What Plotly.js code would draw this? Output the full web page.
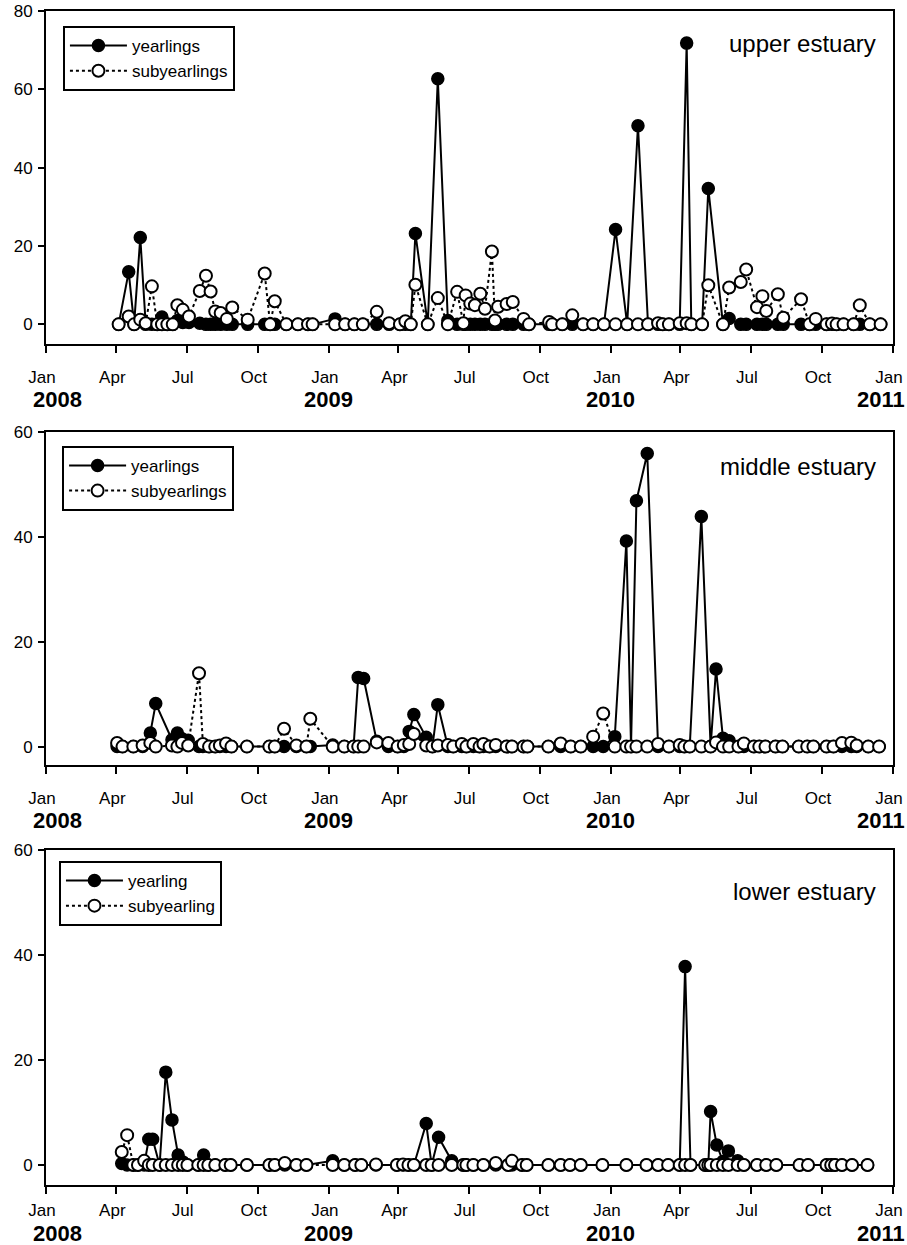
<!DOCTYPE html>
<html>
<head>
<meta charset="utf-8">
<script src="https://cdn.plot.ly/plotly-3.0.1.min.js"></script>
<style>
  html, body { margin: 0; padding: 0; background: #ffffff; }
  #chart { width: 907px; height: 1245px; }
</style>
</head>
<body>
<div id="chart"></div>
<script>
// Sampling dates and catch values for the three estuary reaches

const upperDates = [
  '2008-04-04','2008-04-17','2008-04-24','2008-05-02','2008-05-09','2008-05-17','2008-05-24','2008-05-30',
  '2008-06-06','2008-06-13','2008-06-19','2008-06-26','2008-07-04','2008-07-18','2008-07-26','2008-08-01',
  '2008-08-07','2008-08-14','2008-08-22','2008-08-29','2008-09-18','2008-10-10','2008-10-17','2008-10-23',
  '2008-11-07','2008-11-22','2008-12-05','2008-12-11',
  '2009-01-09','2009-01-22','2009-02-03','2009-02-14','2009-03-04','2009-03-20','2009-04-03','2009-04-10',
  '2009-04-17','2009-04-23','2009-05-09','2009-05-22','2009-06-04','2009-06-16','2009-06-24','2009-06-27',
  '2009-07-03','2009-07-09','2009-07-16','2009-07-22','2009-07-31','2009-08-04','2009-08-08','2009-08-19',
  '2009-08-27','2009-09-10','2009-09-17','2009-10-13','2009-10-17','2009-10-30','2009-11-12','2009-11-26',
  '2009-12-09','2009-12-23',
  '2010-01-07','2010-01-22','2010-02-05','2010-02-18','2010-03-03','2010-03-09','2010-03-17','2010-03-31',
  '2010-04-09','2010-04-15','2010-04-29','2010-05-07','2010-05-26','2010-06-03','2010-06-18','2010-06-25',
  '2010-07-09','2010-07-16','2010-07-21','2010-08-05','2010-08-12','2010-09-04','2010-09-15','2010-09-23',
  '2010-10-07','2010-10-14','2010-10-20','2010-10-29','2010-11-11','2010-11-19','2010-12-02','2010-12-16'
];
const upperYearlings = [
  0, 13.4, 0, 22.2, 0, 0, 0, 1.9, 0, 0, 1, 0.5, 0.5, 0.3, 0, 0, 0, 0, 0, 0, 0, 0, 0, 0, 0, 0, 0, 0,
  1.4, 0, 0, 0, 0, 0, 0, 0, 0, 23.2, 0, 62.7, 1, 0, 0, 0, 0, 0, 0, 0, 0, 0, 0, 0, 0, 0, 0, 0, 0, 0, 0, 0, 0, 0,
  24.2, 0, 50.7, 0, 0, 0, 0, 0, 71.8, 0, 0, 34.7, 0, 1.5, 0, 0, 0, 0, 0, 0, 0, 0, 0, 0, 0, 0, 0, 0, 0, 0, 0, 0
];
const upperSubyearlings = [
  0, 2, 0, 1.2, 0.3, 9.7, 0, 0, 0, 0, 4.9, 3.7, 2, 8.5, 12.4, 8.4, 3.3, 2.9, 1.4, 4.3, 1.2, 13, 0, 5.9, 0, 0, 0, 0,
  0, 0, 0, 0, 3.2, 0.3, 0, 0.8, 0, 10.1, 0, 6.7, 0, 8.3, 0.3, 7.4, 5.3, 4.9, 7.8, 4, 18.6, 1, 4.5, 5.2, 5.7, 1.4,
  0, 0.6, 0, 0, 2.3, 0, 0, 0,
  0, 0, 0, 0, 0.3, 0, 0, 0.3, 0.3, 0, 0, 10, 0, 9.4, 10.8, 14, 4.4, 7.2, 3.4, 7.7, 1.7, 6.4, 0, 1.4, 0, 0.2,
  0, 0, 0, 4.9, 0, 0
];

const middleDates = [
  '2008-04-02','2008-04-09','2008-04-23','2008-05-05','2008-05-15','2008-05-22','2008-06-12','2008-06-19',
  '2008-06-25','2008-07-03','2008-07-17','2008-07-22','2008-07-30','2008-08-07','2008-08-13','2008-08-21',
  '2008-08-28','2008-09-17','2008-10-16','2008-10-23','2008-11-04','2008-11-20','2008-12-03','2008-12-08',
  '2009-01-06','2009-01-21','2009-02-02','2009-02-08','2009-02-15','2009-03-04','2009-03-19','2009-03-31',
  '2009-04-08','2009-04-15','2009-04-21','2009-05-07','2009-05-15','2009-05-22','2009-06-04','2009-06-11',
  '2009-06-22','2009-06-28','2009-07-07','2009-07-15','2009-07-20','2009-07-28','2009-08-05','2009-08-19',
  '2009-08-26','2009-09-10','2009-09-15','2009-10-12','2009-10-28','2009-11-10','2009-11-23','2009-12-09',
  '2009-12-22',
  '2010-01-06','2010-01-21','2010-01-27','2010-02-03','2010-02-17','2010-03-03','2010-03-17','2010-03-31',
  '2010-04-06','2010-04-13','2010-04-28','2010-05-10','2010-05-17','2010-05-26','2010-06-03','2010-06-15',
  '2010-06-22','2010-07-05','2010-07-12','2010-07-20','2010-08-02','2010-08-11','2010-09-01','2010-09-12',
  '2010-09-20','2010-10-07','2010-10-16','2010-10-27','2010-11-08','2010-11-15','2010-11-30','2010-12-14'
];
const middleYearlings = [
  0, 0, 0, 0, 2.6, 8.2, 1.3, 2.6, 1.5, 1.2, 0, 0, 0, 0, 0, 0, 0, 0, 0, 0, 0, 0, 0, 0,
  0.3, 0, 0, 13.2, 13.0, 1.0, 0, 0, 0, 2.9, 6.1, 1.8, 0, 8.0, 0, 0, 0, 0, 0, 0, 0, 0, 0, 0, 0, 0, 0, 0, 0, 0,
  0, 0, 0,
  1.9, 39.2, 0, 46.9, 55.9, 0, 0, 0, 0, 0, 43.9, 0, 14.8, 1.6, 1.1, 0, 0, 0, 0, 0, 0, 0, 0, 0, 0, 0, 0, 0, 0,
  0, 0, 0, 0
];
const middleSubyearlings = [
  0.7, 0, 0, 0.2, 0.7, 0, 0.2, 0, 0.7, 0.2, 14, 0.5, 0, 0, 0.2, 0.6, 0, 0, 0, 0, 3.4, 0.2, 0, 5.3,
  0, 0, 0, 0, 0, 0.8, 0.7, 0, 0.3, 0.5, 2.4, 0.2, 0, 0.2, 0.3, 0, 0.5, 0, 0.5, 0, 0.5, 0, 0.3, 0, 0, 0, 0, 0,
  0.6, 0, 0, 1.9, 6.3,
  0, 0, 0, 0, 0, 0.5, 0, 0.3, 0, 0, 0, 0, 0.8, 0, 0, 0, 0.6, 0, 0, 0, 0, 0, 0, 0, 0, 0, 0, 0.7, 0.75, 0.2,
  0, 0
];

const lowerDates = [
  '2008-04-08','2008-04-15','2008-04-23','2008-04-29','2008-05-07','2008-05-13','2008-05-18','2008-05-27',
  '2008-06-04','2008-06-12','2008-06-20','2008-06-26','2008-07-02','2008-07-16','2008-07-23','2008-07-29',
  '2008-08-07','2008-08-20','2008-08-27','2008-09-17','2008-10-16','2008-10-23','2008-11-05','2008-11-20',
  '2008-12-03',
  '2009-01-06','2009-01-21','2009-02-04','2009-02-12','2009-03-03','2009-03-30','2009-04-07','2009-04-14',
  '2009-04-21','2009-05-07','2009-05-14','2009-05-23','2009-06-09','2009-06-24','2009-06-28','2009-07-07',
  '2009-07-20','2009-08-05','2009-08-21','2009-08-26','2009-09-08','2009-09-14','2009-10-12','2009-10-28',
  '2009-11-09','2009-11-23','2009-12-21',
  '2010-01-21','2010-02-16','2010-03-03','2010-03-16','2010-03-31','2010-04-07','2010-04-14','2010-05-03',
  '2010-05-07','2010-05-10','2010-05-18','2010-05-26','2010-06-02','2010-06-14','2010-06-22','2010-07-09',
  '2010-07-21','2010-08-03','2010-09-02','2010-09-13','2010-10-07','2010-10-13','2010-10-18','2010-10-27',
  '2010-11-09','2010-11-29'
];
const lowerYearlings = [
  0.3, 0, 0, 0, 0, 4.9, 4.9, 0, 17.7, 8.6, 1.9, 0.6, 0, 0, 1.9, 0, 0, 0, 0, 0, 0, 0, 0, 0, 0,
  0.8, 0, 0, 0, 0, 0, 0, 0, 0, 7.9, 0, 5.3, 0.8, 0, 0, 0, 0, 0, 0, 0, 0, 0, 0, 0, 0, 0, 0,
  0, 0, 0, 0, 0, 37.8, 0, 0, 0, 10.2, 3.8, 0.7, 2.7, 0.8, 0, 0, 0, 0, 0, 0, 0, 0, 0, 0, 0, 0
];
const lowerSubyearlings = [
  2.5, 5.7, 0, 0, 0.8, 0, 0, 0, 0, 0, 0, 0, 0, 0, 0, 0, 0, 0, 0, 0, 0, 0, 0.4, 0, 0,
  0, 0, 0, 0, 0.1, 0, 0.1, 0, 0, 0, 0, 0, 0, 0, 0, 0, 0, 0.4, 0, 0.8, 0, 0, 0, 0, 0, 0, 0,
  0, 0, 0, 0, 0, 0, 0, 0, 0, 0, 0, 0, 0, 0, 0, 0, 0, 0, 0, 0, 0, 0, 0, 0, 0, 0
];

// Axis tick labels
const monthTickDates = [
  '2008-01-01','2008-04-01','2008-07-01','2008-10-01',
  '2009-01-01','2009-04-01','2009-07-01','2009-10-01',
  '2010-01-01','2010-04-01','2010-07-01','2010-10-01','2011-01-01'
];
const monthTickLabels = ['Jan','Apr','Jul','Oct','Jan','Apr','Jul','Oct','Jan','Apr','Jul','Oct','Jan'];
const yearLabelDates = ['2008-01-01','2009-01-01','2010-01-01','2011-01-01'];
const yearLabels = ['2008','2009','2010','2011'];
const reachNames = ['upper estuary','middle estuary','lower estuary'];

const FONT = 'Liberation Sans, Arial, Helvetica, sans-serif';

function seriesPair(dates, yr, sub, idx, names) {
  const suffix = idx === 1 ? '' : String(idx);
  const common = {
    x: dates, type: 'scatter', mode: 'lines+markers', cliponaxis: false,
    xaxis: 'x' + suffix, yaxis: 'y' + suffix, legend: 'legend' + suffix,
    hoverinfo: 'x+y'
  };
  return [
    Object.assign({}, common, {
      y: yr, name: names[0],
      line: { color: '#000', width: 2 },
      marker: { symbol: 'circle', size: 12, color: '#000', line: { color: '#000', width: 1.5 } }
    }),
    Object.assign({}, common, {
      y: sub, name: names[1],
      line: { color: '#000', width: 2, dash: 'dot' },
      marker: { symbol: 'circle', size: 12, color: '#fff', line: { color: '#000', width: 2 } }
    })
  ];
}

const data = []
  .concat(seriesPair(upperDates, upperYearlings, upperSubyearlings, 1, ['yearlings', 'subyearlings']))
  .concat(seriesPair(middleDates, middleYearlings, middleSubyearlings, 2, ['yearlings', 'subyearlings']))
  .concat(seriesPair(lowerDates, lowerYearlings, lowerSubyearlings, 3, ['yearling', 'subyearling']));

// Panel placement (fractions of the plotting area)
const panels = [
  { domain: [0.7164, 1.0], range: [-5.0, 80], ticks: [0, 20, 40, 60, 80],
    legendX: 0.02, legendTop: 0.9872, labelY: 0.9727, monthGap: 10, yearShift: -55, yearBox: 20 },
  { domain: [0.3578, 0.6414], range: [-3.5, 60], ticks: [0, 20, 40, 60],
    legendX: 0.019, legendTop: 0.6295, labelY: 0.6124, monthGap: 10, yearShift: -55, yearBox: 20 },
  { domain: [0.0, 0.2853], range: [-3.8, 60], ticks: [0, 20, 40, 60],
    legendX: 0.0153, legendTop: 0.2760, labelY: 0.2504, monthGap: 2, yearShift: -48, yearBox: 17 }
];

const layout = {
  width: 907, height: 1245,
  margin: { l: 46, r: 14, t: 11, b: 60 },
  paper_bgcolor: '#fff', plot_bgcolor: '#fff',
  font: { family: FONT, color: '#000', size: 17 },
  showlegend: true,
  hovermode: 'closest',
  annotations: []
};

panels.forEach((p, i) => {
  const n = i + 1;
  const suffix = n === 1 ? '' : String(n);
  layout['xaxis' + suffix] = {
    domain: [0, 1], anchor: 'y' + suffix, type: 'date',
    range: ['2008-01-01', '2011-01-01'],
    tickmode: 'array', tickvals: monthTickDates, ticktext: monthTickLabels,
    ticks: 'outside', ticklen: 7, tickwidth: 2, tickcolor: '#000',
    showline: true, linewidth: 2, linecolor: '#000', mirror: true,
    showgrid: false, zeroline: false,
    tickfont: { family: FONT, size: 17, color: '#000' },
    ticklabelshift: -4, ticklabelstandoff: p.monthGap
  };
  layout['yaxis' + suffix] = {
    domain: p.domain, anchor: 'x' + suffix,
    range: p.range, tickmode: 'array', tickvals: p.ticks,
    ticks: 'outside', ticklen: 6, tickwidth: 2, tickcolor: '#000',
    showline: true, linewidth: 2, linecolor: '#000', mirror: true,
    showgrid: false, zeroline: false,
    tickfont: { family: FONT, size: 17, color: '#000' },
    ticklabelstandoff: 2
  };
  layout['legend' + suffix] = {
    x: p.legendX, y: p.legendTop, xanchor: 'left', yanchor: 'top',
    bgcolor: '#fff', bordercolor: '#000', borderwidth: 2,
    font: { family: FONT, size: 17, color: '#000' },
    itemwidth: 57, traceorder: 'normal'
  };
  yearLabels.forEach((yl, k) => {
    const shift = k === 0 ? 11 : (k === yearLabels.length - 1 ? -12 : 0);
    layout.annotations.push({
      text: '<b>' + yl + '</b>', xref: 'x' + suffix, yref: 'y' + suffix + ' domain',
      x: yearLabelDates[k], y: 0, xanchor: 'center', yanchor: 'middle',
      xshift: shift, yshift: p.yearShift, showarrow: false,
      height: p.yearBox, valign: 'middle',
      font: { family: FONT, size: 22, color: '#000' }
    });
  });
  layout.annotations.push({
    text: reachNames[i], xref: 'paper', yref: 'paper',
    x: 0.982, y: p.labelY, xanchor: 'right', yanchor: 'middle',
    showarrow: false, font: { family: FONT, size: 24, color: '#000' }
  });
});

Plotly.newPlot('chart', data, layout, { displayModeBar: false });
</script>
</body>
</html>
